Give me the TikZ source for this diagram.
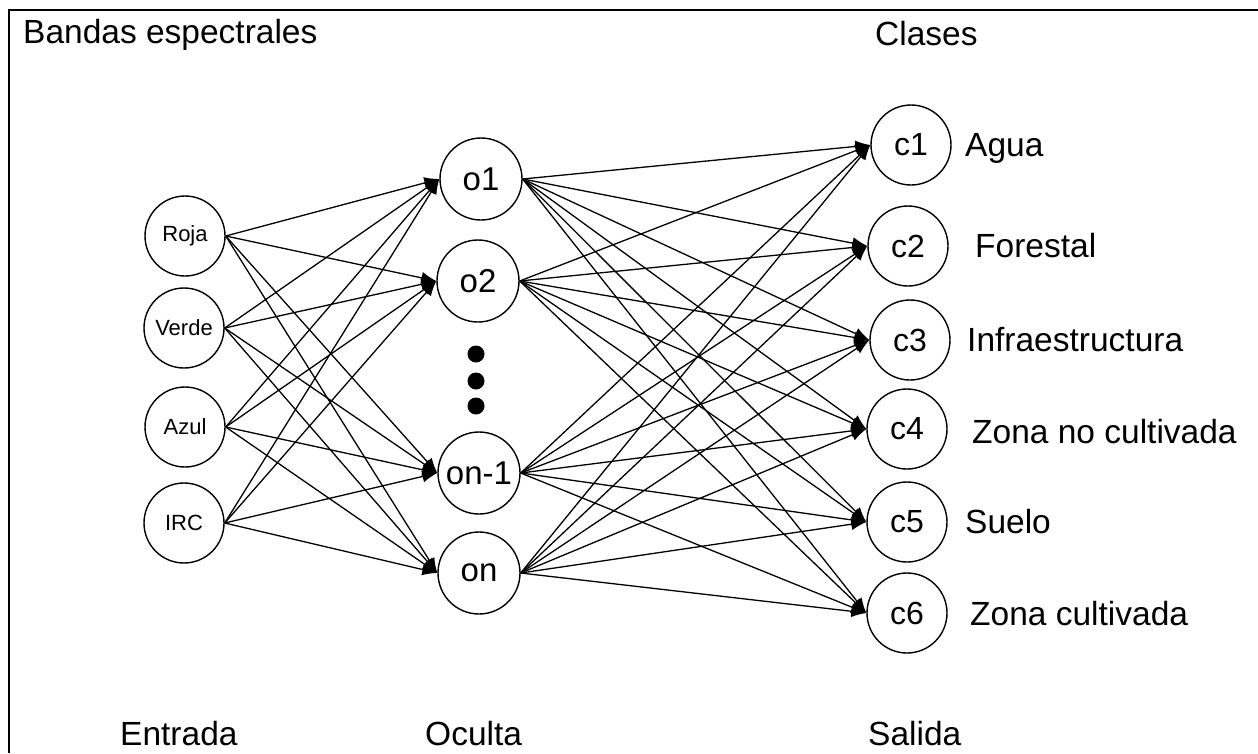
\documentclass[tikz,border=0pt]{standalone}
\usepackage{fontspec}
\setmainfont{Liberation Sans}
\usetikzlibrary{arrows.meta}
\begin{document}
\begin{tikzpicture}[x=1pt,y=-1pt,
  neuron/.style={circle,draw,line width=1.4pt,inner sep=0pt},
  inp/.style={neuron,minimum size=80pt,font=\fontsize{22}{26}\selectfont},
  hid/.style={neuron,minimum size=82pt,font=\fontsize{33}{40}\selectfont},
  outn/.style={neuron,minimum size=80pt,font=\fontsize{32}{38}\selectfont},
  lbl/.style={anchor=base west,inner sep=0pt,font=\fontsize{33.5}{40}\selectfont},
  conn/.style={-{Latex[length=15pt,width=12pt]},line width=1.3pt},
  dotn/.style={circle,fill,minimum size=17pt,inner sep=0pt}]
\useasboundingbox (0,0) rectangle (1258,753);
% frame (top and left edges only)
\draw[line width=2.5pt] (9,753) -- (9,10) -- (1258,10);
% titles
\node[lbl] (tb) at (23,43) {Bandas espectrales};
\node[lbl] (tc) at (875,45) {Clases};
\node[lbl] (te) at (120,745) {Entrada};
\node[lbl] (to) at (425,745) {Oculta};
\node[lbl] (ts) at (868,745) {Salida};
% input layer
\node[inp] (i1) at (185,236) {Roja};
\node[inp] (i2) at (184,328) {Verde};
\node[inp] (i3) at (185,427) {Azul};
\node[inp] (i4) at (184,523) {IRC};
% hidden layer
\node[hid] (h1) at (481,179) {o1};
\node[hid] (h2) at (478,281) {o2};
\node[hid] (h3) at (479,473) {on-1};
\node[hid] (h4) at (479,573) {on};
\node[dotn] (d1) at (476,354) {};
\node[dotn] (d2) at (476,381) {};
\node[dotn] (d3) at (476,406) {};
% output layer
\node[outn] (c1) at (911,145) {c1};
\node[outn] (c2) at (908,246) {c2};
\node[outn] (c3) at (910,340) {c3};
\node[outn] (c4) at (907,429) {c4};
\node[outn] (c5) at (907,522) {c5};
\node[outn] (c6) at (907,613) {c6};
% class labels
\node[lbl] (l1) at (965,156) {Agua};
\node[lbl] (l2) at (975,257) {Forestal};
\node[lbl] (l3) at (967,351) {Infraestructura};
\node[lbl] (l4) at (972,443) {Zona no cultivada};
\node[lbl] (l5) at (965,533) {Suelo};
\node[lbl] (l6) at (970,625) {Zona cultivada};
% connections
\foreach \a in {i1,i2,i3,i4}
  \foreach \b in {h1,h2,h3,h4}
    \draw[conn] (\a.east) -- (\b.west);
\foreach \a in {h1,h2,h3,h4}
  \foreach \b in {c1,c2,c3,c4,c5,c6}
    \draw[conn] (\a.east) -- (\b.west);
\end{tikzpicture}
\end{document}
